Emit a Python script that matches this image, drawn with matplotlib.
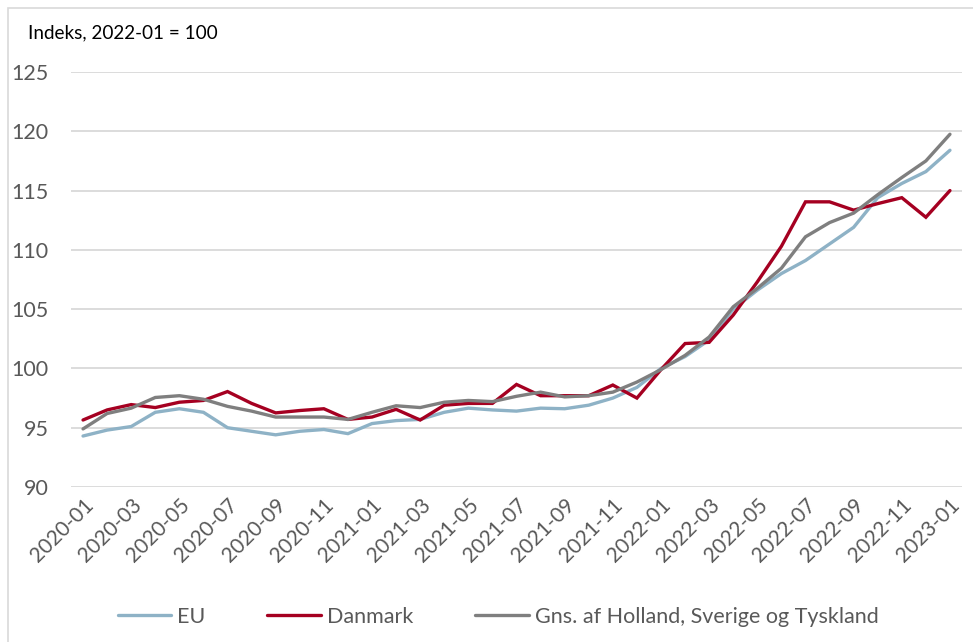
import matplotlib
matplotlib.use("Agg")
import matplotlib.pyplot as plt
from matplotlib.patches import Rectangle

# months 2020-01 .. 2023-01
months = [f"{y}-{m:02d}" for y in (2020, 2021, 2022) for m in range(1, 13)] + ["2023-01"]

eu = [94.3, 94.8, 95.1, 96.3, 96.6, 96.3, 95.0, 94.7, 94.4, 94.7, 94.85, 94.5,
      95.35, 95.6, 95.7, 96.3, 96.65, 96.5, 96.4, 96.65, 96.6, 96.9, 97.5, 98.4,
      100.0, 101.0, 102.4, 105.0, 106.6, 108.0, 109.1, 110.5, 111.9, 114.4, 115.6, 116.6, 118.4]
danmark = [95.65, 96.5, 96.95, 96.7, 97.15, 97.3, 98.05, 97.05, 96.25, 96.45, 96.6, 95.7,
           95.9, 96.55, 95.65, 96.9, 97.05, 97.05, 98.65, 97.7, 97.7, 97.7, 98.6, 97.5,
           99.9, 102.1, 102.2, 104.5, 107.3, 110.3, 114.05, 114.05, 113.35, 113.9, 114.4, 112.75, 115.0]
gns = [94.9, 96.2, 96.65, 97.55, 97.7, 97.4, 96.8, 96.4, 95.9, 95.9, 95.9, 95.7,
       96.3, 96.85, 96.7, 97.15, 97.3, 97.2, 97.65, 98.0, 97.6, 97.7, 98.0, 98.85,
       99.9, 101.1, 102.65, 105.2, 106.75, 108.45, 111.1, 112.3, 113.1, 114.65, 116.1, 117.5, 119.75]

series = [("EU", eu, "#8EB2C6"),
          ("Danmark", danmark, "#A50021"),
          ("Gns. af Holland, Sverige og Tyskland", gns, "#7F7F7F")]

plt.rcParams['font.family'] = ['Lato', 'DejaVu Sans']

dpi = 100
fig = plt.figure(figsize=(973 / dpi, 642 / dpi), dpi=dpi)
W, H = 973, 642
ax = fig.add_axes([71 / W, 1 - 487 / H, (962 - 71) / W, (487 - 72) / H])

x = list(range(len(months)))
handles = []
for name, vals, col in series:
    h, = ax.plot(x, vals, color=col, lw=2.4, label=name, solid_capstyle='round', solid_joinstyle='miter')
    handles.append(h)

ax.set_xlim(-0.5, len(months) - 0.5)
ax.set_ylim(90, 125)
ax.set_yticks(range(90, 126, 5))
ax.yaxis.grid(True, color='#D9D9D9', lw=1.3)
ax.set_axisbelow(True)
for s in ax.spines.values():
    s.set_visible(False)
ax.tick_params(axis='y', length=0, pad=16, labelsize=15.5, labelcolor='#595959')
ax.tick_params(axis='x', length=0, pad=6, labelsize=15, labelcolor='#595959')
ax.set_xticks(x[::2])
ax.set_xticklabels(months[::2], rotation=45, ha='right', va='top', rotation_mode='anchor')

fig.text(28 / W, 1 - 33 / H, "Indeks, 2022-01 = 100", fontsize=13.6, color='black', va='center', ha='left')

fig.legend(handles=handles, loc='center', bbox_to_anchor=(498 / W, 1 - 617 / H), ncol=3, frameon=False,
           fontsize=15.5, labelcolor='#595959', handlelength=2.5, handletextpad=0.25, columnspacing=2.9)

# chart area border
fig.patches.append(Rectangle((8 / W, -0.1), 1.2, 1 - 8 / H + 0.1, transform=fig.transFigure,
                             fill=False, edgecolor='#D9D9D9', lw=1.2))

fig.savefig("out.png", dpi=dpi)
